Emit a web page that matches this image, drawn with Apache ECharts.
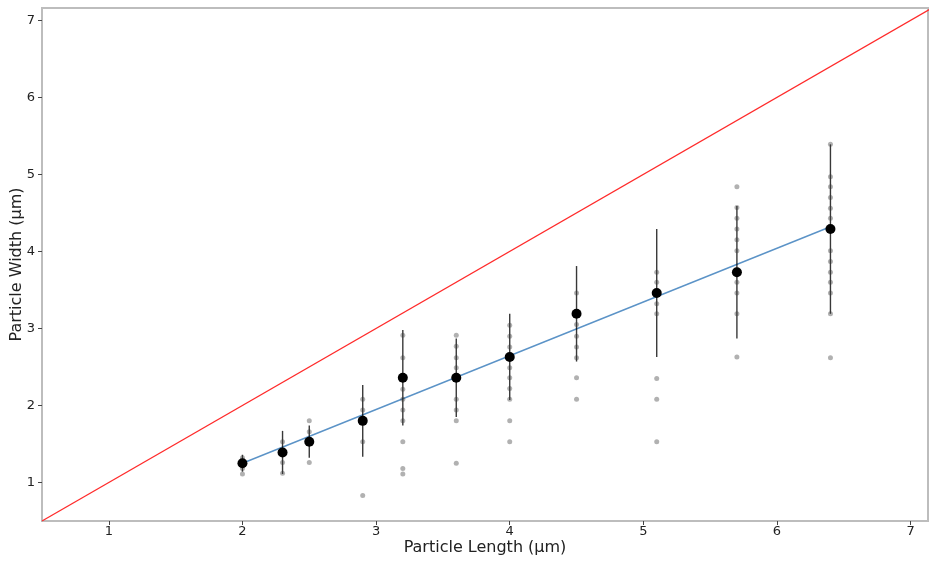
<!DOCTYPE html>
<html>
<head>
<meta charset="utf-8">
<title>Particle width vs length</title>
<script src="https://cdn.jsdelivr.net/npm/echarts@6/dist/echarts.min.js"></script>
<style>
  html, body { margin: 0; padding: 0; background: #fff; }
  #chart { width: 929px; height: 564px; }
</style>
</head>
<body>
<div id="chart"></div>
<script>
// Particle lengths (µm) at which widths were measured
const lengths = [2.0, 2.3, 2.5, 2.9, 3.2, 3.6, 4.0, 4.5, 5.1, 5.7, 6.4];

// Individual width measurements (µm) for each length
const widthsByLength = [
  [1.32, 1.18, 1.11],
  [1.53, 1.26, 1.12],
  [1.80, 1.66, 1.26],
  [2.08, 1.94, 1.53, 0.83],
  [2.91, 2.62, 2.21, 2.08, 1.94, 1.80, 1.53, 1.18, 1.11],
  [2.91, 2.77, 2.62, 2.49, 2.08, 1.94, 1.80, 1.25],
  [3.04, 2.90, 2.76, 2.49, 2.36, 2.22, 2.08, 1.80, 1.53],
  [3.46, 3.05, 2.90, 2.76, 2.62, 2.36, 2.08],
  [3.73, 3.60, 3.32, 3.19, 2.35, 2.08, 1.53],
  [4.84, 4.57, 4.43, 4.29, 4.15, 4.01, 3.60, 3.46, 3.19, 2.63],
  [5.39, 4.97, 4.84, 4.70, 4.56, 4.43, 4.01, 3.87, 3.73, 3.60, 3.46, 3.19, 2.62]
];

// Mean width and standard deviation per length
const meanWidths = [1.25, 1.39, 1.53, 1.80, 2.36, 2.36, 2.63, 3.19, 3.46, 3.73, 4.29];
const stdWidths  = [0.11, 0.28, 0.21, 0.465, 0.62, 0.51, 0.56, 0.62, 0.83, 0.86, 1.10];

// Linear fit through the means (end points)
const fitLengths = [2.0, 6.4];
const fitWidths  = [1.25, 4.32];

// Reference line width = length
const identityRange = [0.5, 7.3];

// Tick labels
const xTicks = [1, 2, 3, 4, 5, 6, 7];
const yTicks = [1, 2, 3, 4, 5, 6, 7];

const rawPoints = [];
widthsByLength.forEach((ws, i) => ws.forEach(w => rawPoints.push([lengths[i], w])));
const meanPoints = lengths.map((x, i) => [x, meanWidths[i]]);
const errorBars = lengths.map((x, i) => [x, meanWidths[i] - stdWidths[i], meanWidths[i] + stdWidths[i]]);
const fitLine = fitLengths.map((x, i) => [x, fitWidths[i]]);
const identityLine = identityRange.map(v => [v, v]);

const font = 'DejaVu Sans';
const frameColor = '#bdbdbd';

const chart = echarts.init(document.getElementById('chart'), null, { renderer: 'canvas' });
chart.setOption({
  animation: false,
  backgroundColor: '#fff',
  grid: {
    left: 42, right: 1, top: 8, bottom: 43,
    outerBoundsMode: 'none', containLabel: false,
    show: true, borderColor: frameColor, borderWidth: 2, backgroundColor: 'transparent'
  },
  xAxis: {
    type: 'value', min: 0.5, max: 7.13,
    name: 'Particle Length (µm)', nameLocation: 'middle', nameGap: 19, nameMoveOverlap: false,
    nameTextStyle: { fontFamily: font, fontSize: 16, color: '#222' },
    axisLine: { show: true, lineStyle: { color: frameColor, width: 2 } },
    axisTick: { show: true, customValues: xTicks, length: 4, lineStyle: { color: '#444' } },
    axisLabel: { customValues: xTicks, fontFamily: font, fontSize: 13, color: '#222', margin: 4 },
    splitLine: { show: false }
  },
  yAxis: {
    type: 'value', min: 0.5, max: 7.16,
    name: 'Particle Width (µm)', nameLocation: 'middle', nameGap: 17, nameMoveOverlap: false,
    nameTextStyle: { fontFamily: font, fontSize: 16, color: '#222' },
    axisLine: { show: true, lineStyle: { color: frameColor, width: 2 } },
    axisTick: { show: true, customValues: yTicks, length: 4, lineStyle: { color: '#444' } },
    axisLabel: { customValues: yTicks, fontFamily: font, fontSize: 13, color: '#222', margin: 7 },
    splitLine: { show: false }
  },
  series: [
    {
      name: 'y = x', type: 'line', data: identityLine, symbol: 'none', clip: true,
      lineStyle: { color: '#ff2a2a', width: 1.3 }, z: 1
    },
    {
      name: 'fit', type: 'line', data: fitLine, symbol: 'none',
      lineStyle: { color: '#5b93c7', width: 1.4 }, z: 2
    },
    {
      name: 'std', type: 'custom', data: errorBars, z: 3,
      renderItem: (params, api) => {
        const lo = api.coord([api.value(0), api.value(1)]);
        const hi = api.coord([api.value(0), api.value(2)]);
        return {
          type: 'line',
          shape: { x1: lo[0], y1: lo[1], x2: hi[0], y2: hi[1] },
          style: { stroke: 'rgba(0,0,0,0.78)', lineWidth: 1.4 }
        };
      }
    },
    {
      name: 'measurements', type: 'scatter', data: rawPoints, symbolSize: 5, z: 4,
      itemStyle: { color: 'rgb(60,60,60)', opacity: 0.4 }
    },
    {
      name: 'mean', type: 'scatter', data: meanPoints, symbolSize: 10, z: 5,
      itemStyle: { color: '#000', opacity: 1 }
    }
  ]
});
</script>
</body>
</html>
